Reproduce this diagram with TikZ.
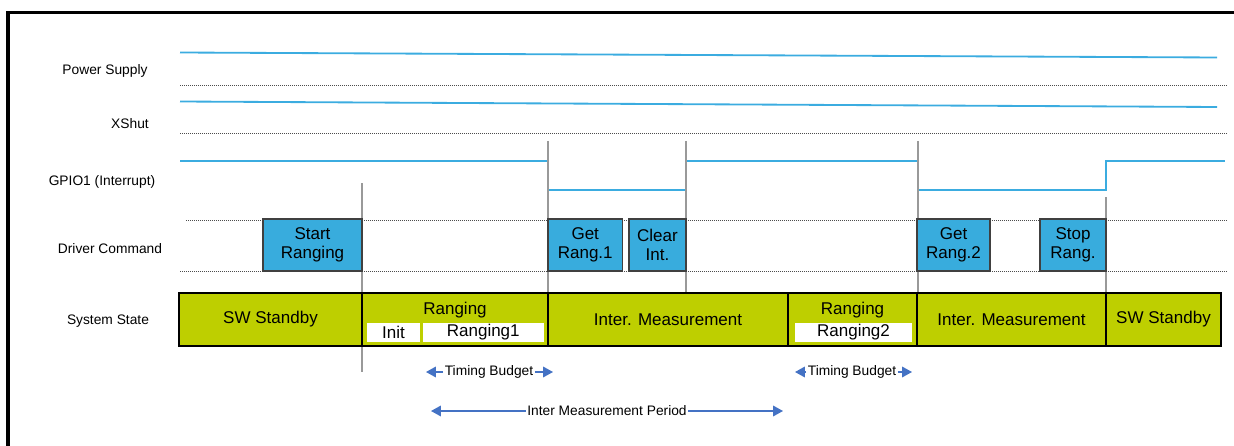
\documentclass[tikz,border=0pt]{standalone}
\usepackage{fontspec}
\setmainfont{Liberation Sans}
\usepackage{tikz}
\usetikzlibrary{arrows.meta}
\definecolor{wireblue}{RGB}{59,172,224}
\definecolor{cmdblue}{RGB}{56,172,221}
\definecolor{stategreen}{RGB}{190,207,0}
\definecolor{spanblue}{RGB}{68,114,196}
\newcommand{\lanefont}{\fontsize{9.8}{11.5}\selectfont}
\newcommand{\boxfont}{\fontsize{12.1}{13.6}\selectfont}
\tikzset{
  wire/.style={wireblue, line width=1.3pt},
  laneline/.style={black!70, line width=0.6pt, dash pattern=on 0.711pt off 0.711pt},
  guide/.style={black!40, line width=0.8pt},
  spanline/.style={draw=spanblue, line width=1pt, -{Triangle[length=7pt,width=7.5pt]}}}
\newcommand{\lanelabel}[4]{\node (#1) at (#2,#3) {#4};}
\newcommand{\cmdbox}[4]{%
  \draw[fill=cmdblue, draw=black!75, line width=1pt] (#2,219) rectangle (#3,271);
  \node[align=center, font=\boxfont] (#1) at ({(#2+#3)/2},245) {#4};}
\newcommand{\statebox}[5]{%
  \draw[fill=stategreen, draw=black, line width=1.1pt] (#2,293) rectangle (#3,346);
  \node[font=\boxfont] (#1) at ({(#2+#3)/2},#4) {#5};}
\newcommand{\subbox}[4]{%
  \fill[white] (#2,323) rectangle (#3,342);
  \node[font=\boxfont] (#1) at ({(#2+#3)/2},332.5) {#4};}
\newcommand{\spanarrow}[6]{%
  \coordinate (#1l) at (#2,#5);
  \coordinate (#1r) at (#3,#5);
  \node[inner sep=1pt] (#1) at (#4,#5) {#6};
  \draw[spanline] (#1) -- (#1l);
  \draw[spanline] (#1) -- (#1r);}

\begin{document}
\begin{tikzpicture}[x=0.025cm, y=-0.025cm, font=\lanefont]
  \useasboundingbox (0,0) rectangle (1234,446);
  \draw[line width=2.2pt] (8,446) -- (8,12.5) -- (1234,12.5);
  % lane names
  \lanelabel{power}{105}{71}{Power Supply}
  \lanelabel{xshut}{130}{124}{XShut}
  \lanelabel{gpio}{102}{182}{GPIO1 (Interrupt)}
  \lanelabel{driver}{110}{249}{Driver Command}
  \lanelabel{sysstate}{108}{321}{System State}
  % signals
  \draw[wire] (180,52.5) -- (1217,57.5);
  \draw[laneline] (180,85) -- (1226,85);
  \draw[wire] (180,101.5) -- (1217,107);
  \draw[laneline] (180,133.5) -- (1226,133.5);
  \draw[wire] (180,161) -- (548,161) -- (548,190) -- (686,190) -- (686,161)
    -- (918,161) -- (918,190) -- (1106,190) -- (1106,161) -- (1225,161);
  \draw[laneline] (186,220) -- (1226,220);
  \draw[laneline] (180,271) -- (1226,271);
  % guides
  \draw[guide] (362,183) -- (362,372);
  \draw[guide] (548,141) -- (548,293);
  \draw[guide] (686,141) -- (686,293);
  \draw[guide] (918,141) -- (918,293);
  \draw[guide] (1106,197) -- (1106,347);
  % commands
  \cmdbox{start}{263}{362}{Start\\Ranging}
  \cmdbox{get1}{548}{622.5}{Get\\Rang.1}
  \cmdbox{clear}{629}{686}{Clear\\Int.}
  \cmdbox{get2}{917}{990}{Get\\Rang.2}
  \cmdbox{stop}{1040}{1106}{Stop\\Rang.}
  % states
  \statebox{standbyA}{179}{362}{319.5}{SW Standby}
  \statebox{rangA}{362}{548}{310}{Ranging}
  \subbox{init}{367}{420}{Init}
  \subbox{rang1}{422.5}{544}{Ranging1}
  \statebox{interA}{548}{788}{319.5}{Inter. Measurement}
  \statebox{rangB}{788}{917}{310}{Ranging}
  \subbox{rang2}{795}{912}{Ranging2}
  \statebox{interB}{917}{1106}{319.5}{Inter. Measurement}
  \statebox{standbyB}{1106}{1221}{319.5}{SW Standby}
  % periods
  \spanarrow{budgetA}{426}{553}{489}{372}{Timing Budget}
  \spanarrow{budgetB}{795}{912}{852}{372}{Timing Budget}
  \spanarrow{period}{431}{783}{607}{411}{Inter Measurement Period}
\end{tikzpicture}
\end{document}
